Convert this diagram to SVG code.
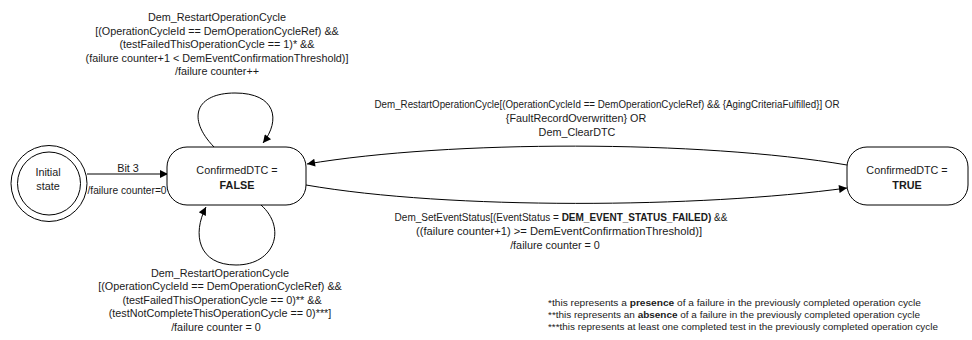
<svg xmlns="http://www.w3.org/2000/svg" width="972" height="340" viewBox="0 0 972 340">
<defs>
<marker id="arr" viewBox="0 0 10 10" refX="10" refY="5" markerWidth="11" markerHeight="8" markerUnits="userSpaceOnUse" orient="auto">
<path d="M0,0 L10,5 L0,10 z" fill="#000"/>
</marker>
<style>
text{font-family:"Liberation Sans",Arial,sans-serif;font-size:10.8px;fill:#1a1a1a;text-anchor:middle}
.b{font-weight:bold}
.fn{font-size:9px;text-anchor:start}
.node{fill:#fff;stroke:#000;stroke-width:1}
.edge{fill:none;stroke:#000;stroke-width:1;marker-end:url(#arr)}
</style>
</defs>
<rect width="972" height="340" fill="#fff"/>
<g id="connectors">
<path class="edge" d="M87,174 L168,174"/>
<path class="edge" d="M214,147 C186,118 196,93 235,93 C276,93 281,120 263,143"/>
<path class="edge" d="M261,205 C287,228 275,265 236,265 C198,265 192,234 206,207"/>
<path class="edge" d="M847,165 C700,140 450,140 307,164"/>
<path class="edge" d="M306,185 C450,210 700,208 847,188"/>
</g>
<g id="initial">
<circle class="node" cx="49" cy="183.5" r="38"/>
<circle class="node" cx="49" cy="183.5" r="31.5"/>
<text x="48" y="175.5">Initial</text>
<text x="48" y="190">state</text>
</g>
<g id="falseState">
<rect class="node" x="167" y="147" width="139" height="58" rx="20"/>
<text x="237" y="173.5">ConfirmedDTC =</text>
<text class="b" x="237" y="189">FALSE</text>
</g>
<g id="trueState">
<rect class="node" x="847" y="147" width="121" height="58" rx="20"/>
<text x="907" y="173.5">ConfirmedDTC =</text>
<text class="b" x="907" y="189">TRUE</text>
</g>
<g id="labels">
<text x="128" y="171.5">Bit 3</text>
<text x="127" y="194" textLength="79" lengthAdjust="spacingAndGlyphs">/failure counter=0</text>
<text x="217" y="21">Dem_RestartOperationCycle</text>
<text x="217" y="34.5">[(OperationCycleId == DemOperationCycleRef) &amp;&amp;</text>
<text x="217" y="48">(testFailedThisOperationCycle == 1)* &amp;&amp;</text>
<text x="217" y="61.5">(failure counter+1 &lt; DemEventConfirmationThreshold)]</text>
<text x="217" y="75">/failure counter++</text>
<text x="607" y="108" textLength="465" lengthAdjust="spacingAndGlyphs">Dem_RestartOperationCycle[(OperationCycleId == DemOperationCycleRef) &amp;&amp; {AgingCriteriaFulfilled}] OR</text>
<text x="576" y="122">{FaultRecordOverwritten} OR</text>
<text x="577" y="136">Dem_ClearDTC</text>
<text x="561" y="221" style="font-size:10px">Dem_SetEventStatus[(EventStatus = <tspan class="b">DEM_EVENT_STATUS_FAILED)</tspan> &amp;&amp;</text>
<text x="559" y="235" textLength="286" lengthAdjust="spacingAndGlyphs">((failure counter+1) &gt;= DemEventConfirmationThreshold)]</text>
<text x="555" y="249">/failure counter = 0</text>
<text x="220" y="276.5">Dem_RestartOperationCycle</text>
<text x="220" y="290">[(OperationCycleId == DemOperationCycleRef) &amp;&amp;</text>
<text x="222" y="303.5">(testFailedThisOperationCycle == 0)** &amp;&amp;</text>
<text x="220" y="317">(testNotCompleteThisOperationCycle == 0)***]</text>
<text x="216" y="330.5">/failure counter = 0</text>
<text class="fn" x="548" y="306" textLength="373" lengthAdjust="spacingAndGlyphs">*this represents a <tspan class="b">presence</tspan> of a failure in the previously completed operation cycle</text>
<text class="fn" x="548" y="318" textLength="372" lengthAdjust="spacingAndGlyphs">**this represents an <tspan class="b">absence</tspan> of a failure in the previously completed operation cycle</text>
<text class="fn" x="548" y="330" textLength="390" lengthAdjust="spacingAndGlyphs">***this represents at least one completed test in the previously completed operation cycle</text>
</g>
</svg>
